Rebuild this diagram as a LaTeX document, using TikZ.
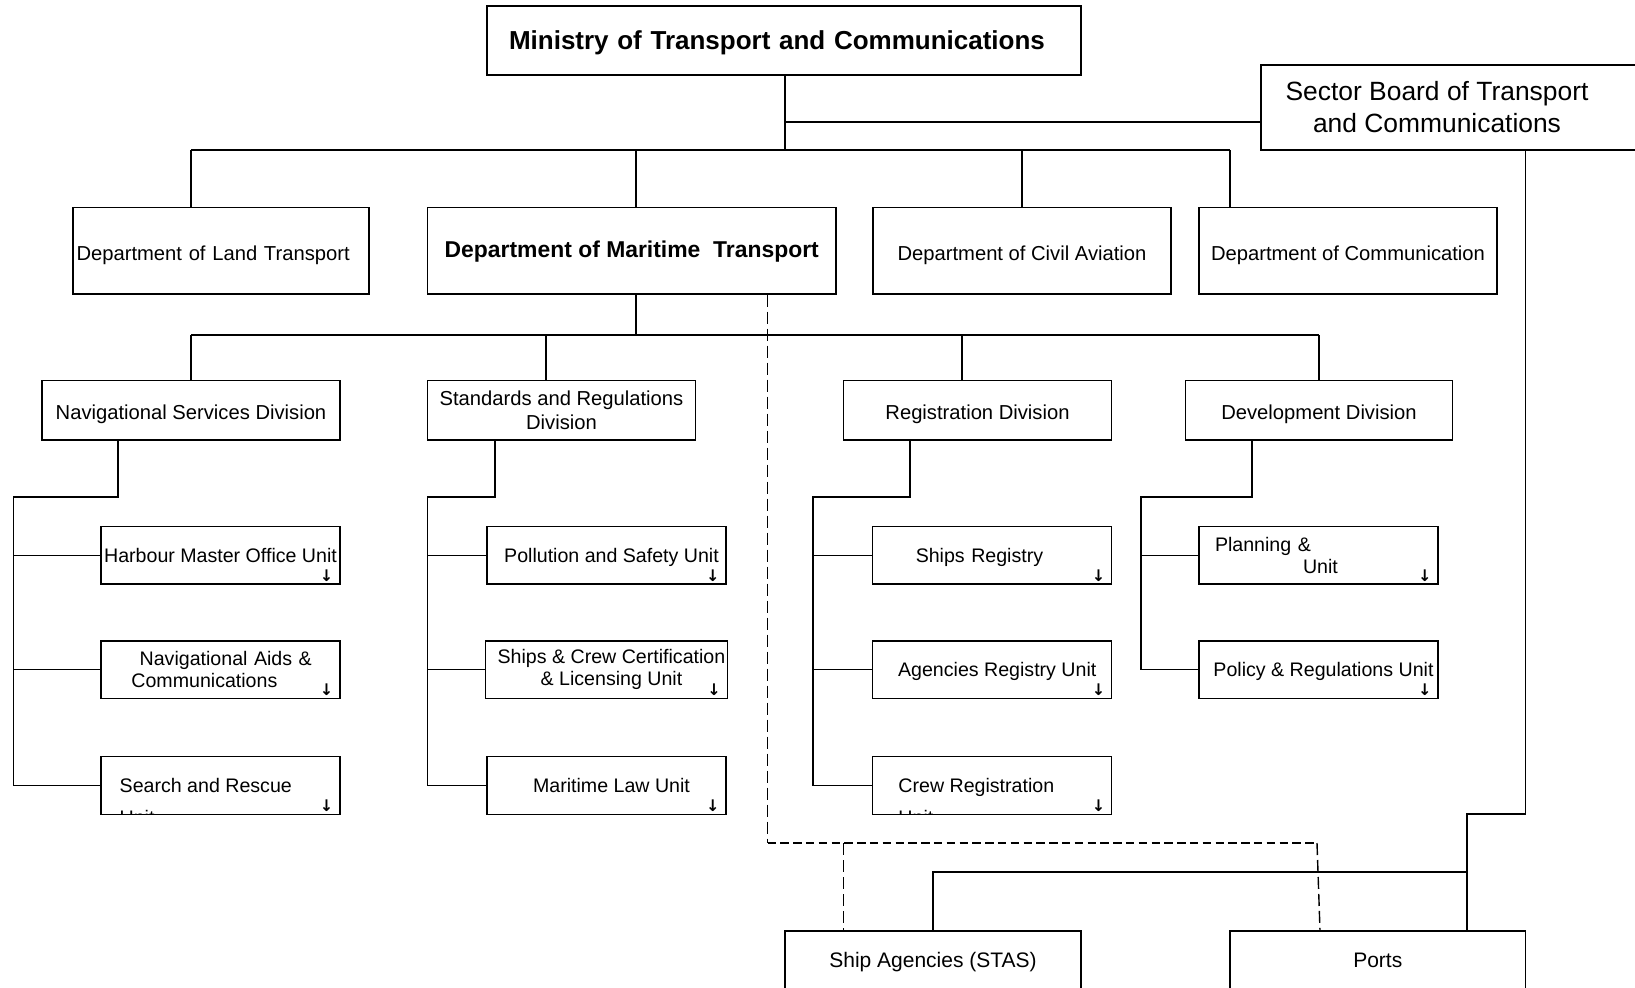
\documentclass[tikz,border=0pt]{standalone}
\usepackage{fontspec}
\setmainfont{Liberation Sans}
\newfontfamily\symfont{DejaVu Sans}
\tikzset{
  box/.style={draw, line width=0.7pt, inner sep=1pt, align=center},
  dept/.style={box, minimum height=43.25pt, text height=12.2pt, text depth=2.12pt, font=\fontsize{10.1}{12}\selectfont},
  division/.style={box, minimum height=29.75pt, text height=11.4pt, text depth=2.1pt, font=\fontsize{10.1}{12}\selectfont},
  unit/.style={box, minimum width=119.5pt, minimum height=28.75pt, text height=9.1pt, text depth=2.05pt, font=\fontsize{9.8}{11}\selectfont},
  shifted/.style={execute at begin node=\hspace*{5pt}},
  multi/.style={text height={}, text depth={}},
  cut/.style={multi, minimum width=0pt, minimum height=0pt, inner sep=0pt, anchor=west, align=left, font=\fontsize{9.8}{16}\selectfont},
  more/.style={inner sep=0pt, font=\symfont\bfseries\fontsize{8}{8}\selectfont},
  link/.style={line width=0.7pt},
  dashv/.style={link, dash pattern=on 6pt off 2.5pt},
  dashh/.style={link, dash pattern=on 4.2pt off 2.2pt},
}
\begin{document}
\begin{tikzpicture}[x=0.5pt, y=-0.5pt]
  \useasboundingbox (0,0) rectangle (1635,987);
  % ministry and board
  \node[box, minimum width=297pt, minimum height=34.5pt, align=left, text width=275pt, text height=11.65pt, text depth=2.75pt, font=\bfseries\fontsize{13}{15}\selectfont] (ministry) at (784,40.5) {Ministry of Transport and Communications};
  \node[box, minimum width=199.5pt, minimum height=42.5pt] (board) at (1460.5,107.5) {};
  \node[align=center, font=\fontsize{13.2}{16}\selectfont] (boardtext) at (1437,107) {Sector Board of Transport\\and Communications};

  % departments
  \node[dept, minimum width=148pt, align=left, text width=144.5pt] (land) at (221,250.75) {Department of Land Transport};
  \node[dept, minimum width=204.25pt, text height=9pt, text depth=2.4pt, font=\bfseries\fontsize{11.45}{14}\selectfont] (maritime) at (631.75,250.75) {Department of Maritime~ Transport};
  \node[dept, minimum width=149pt] (aviation) at (1022,250.75) {Department of Civil Aviation};
  \node[dept, minimum width=149pt] (comm) at (1348,250.75) {Department of Communication};

  % divisions
  \node[division, minimum width=149pt] (nav) at (191,410.25) {Navigational Services Division};
  \node[division, multi, minimum width=134pt] (std) at (561.5,410.25) {Standards and Regulations\\Division};
  \node[division, minimum width=134pt] (reg) at (977.5,410.25) {Registration Division};
  \node[division, minimum width=133.5pt] (dev) at (1319,410.25) {Development Division};

  % units
  \node[unit] (hm) at (220.5,555.25) {Harbour Master Office Unit};
  \node[unit, multi, align=left, text width=92pt] (nac) at (220.5,669.75) {\hspace*{5.6pt}Navigational Aids \&\\\hspace*{1.45pt}Communications};
  \node[unit, path picture={\node[cut] (sar-text) at ([xshift=9pt,yshift=-7.9pt]path picture bounding box.west) {Search and Rescue\\Unit};}] (sar) at (220.5,785.5) {};
  \node[unit, shifted] (pol) at (606.5,555.25) {Pollution and Safety Unit};
  \node[unit, multi, shifted] (scc) at (606.5,669.75) {Ships \& Crew Certification\\\& Licensing Unit};
  \node[unit, shifted] (law) at (606.5,785.5) {Maritime Law Unit};
  \node[unit, align=left, text width=76.5pt] (sreg) at (992.25,555.25) {Ships Registry};
  \node[unit, shifted] (areg) at (992.25,669.75) {Agencies Registry Unit};
  \node[unit, path picture={\node[cut] (creg-text) at ([xshift=12.5pt,yshift=-7.9pt]path picture bounding box.west) {Crew Registration\\Unit};}] (creg) at (992.25,785.5) {};
  \node[unit, multi, align=left, text width=103.5pt] (plan) at (1318.5,555.25) {Planning \&\\\hspace*{44pt}Unit};
  \node[unit, shifted] (pru) at (1318.5,669.75) {Policy \& Regulations Unit};
  \foreach \u in {hm,nac,sar,pol,scc,law,sreg,areg,creg,plan,pru}
    \node[more] (\u-dn) at ([xshift=-7pt,yshift=4.6pt]\u.south east) {↓};

  % agencies
  \node[box, minimum width=148pt, minimum height=29pt, text height=9.7pt, text depth=2.2pt, font=\fontsize{10.5}{12}\selectfont] (ship) at (933,960) {Ship Agencies (STAS)};
  \node[box, minimum width=147.75pt, minimum height=29pt, text height=9.7pt, text depth=2.2pt, font=\fontsize{10.5}{12}\selectfont] (ports) at (1377.75,960) {Ports};

  % top level links
  \draw[link] (ministry.south -| 785,0) -- (785,150);
  \draw[link] (785,122) -- (board.west |- 0,122);
  \draw[link] (191,150) -- (1230,150);
  \foreach \d/\x in {land/191, maritime/636, aviation/1022, comm/1230}
    \draw[link] (\x,150) -- (\d.north -| \x,0);

  % maritime divisions
  \draw[link] (maritime.south -| 636,0) -- (636,335);
  \draw[link] (191,335) -- (1319,335);
  \foreach \d/\x in {nav/191, std/546, reg/962, dev/1319}
    \draw[link] (\x,335) -- (\d.north -| \x,0);

  % units under each division
  \coordinate (navrail) at (13.5,497);
  \coordinate (stdrail) at (427.5,497);
  \coordinate (regrail) at (813,497);
  \coordinate (devrail) at (1141,497);
  \draw[link] (nav.south -| 118,0) |- (navrail) -- (navrail |- sar.west);
  \draw[link] (std.south -| 495,0) |- (stdrail) -- (stdrail |- law.west);
  \draw[link] (reg.south -| 910,0) |- (regrail) -- (regrail |- creg.west);
  \draw[link] (dev.south -| 1252,0) |- (devrail) -- (devrail |- pru.west);
  \foreach \u in {hm,nac,sar} \draw[link] (navrail |- \u.west) -- (\u.west);
  \foreach \u in {pol,scc,law} \draw[link] (stdrail |- \u.west) -- (\u.west);
  \foreach \u in {sreg,areg,creg} \draw[link] (regrail |- \u.west) -- (\u.west);
  \foreach \u in {plan,pru} \draw[link] (devrail |- \u.west) -- (\u.west);

  % board to agencies
  \draw[link] (board.south -| 1525.5,0) -- (1525.5,814) -| (ports.north -| 1467,0);
  \draw[link] (1467,872) -| (ship.north -| 933,0);

  % maritime to agencies
  \coordinate (dl) at (767.5,843);
  \coordinate (dm) at (843.5,843);
  \coordinate (dr) at (1317,843);
  \draw[dashv] (maritime.south -| dl) -- (dl);
  \draw[dashh] (dl) -- (dr);
  \draw[dashv] (dr) -- (ports.north -| 1320,0);
  \draw[dashv] (dm) -- (ship.north -| dm);
\end{tikzpicture}
\end{document}
